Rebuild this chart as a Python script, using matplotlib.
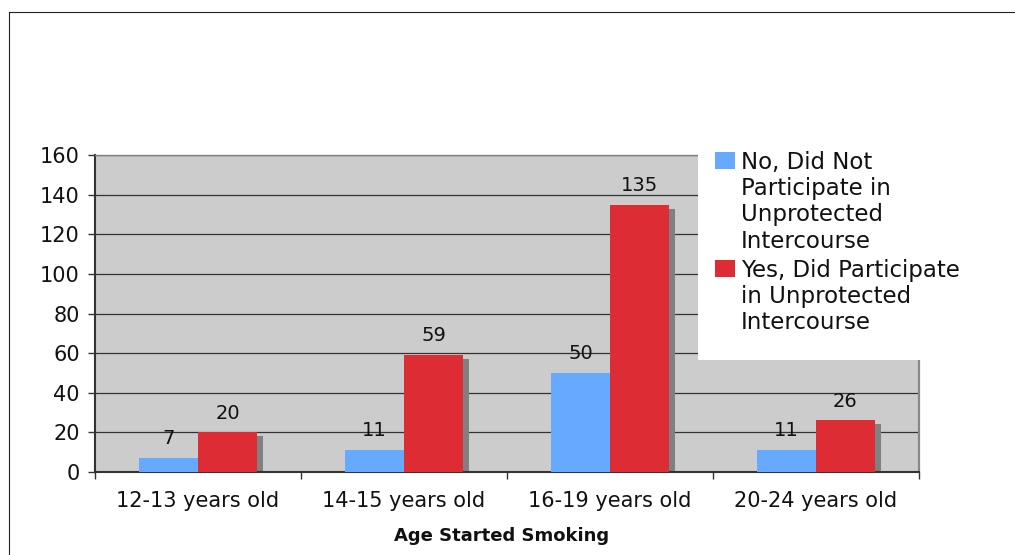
import numpy as np
import matplotlib
matplotlib.use("Agg")
import matplotlib.pyplot as plt
from matplotlib import transforms
from matplotlib.patches import Rectangle
from matplotlib.lines import Line2D

# Data
categories = ["12-13 years old", "14-15 years old", "16-19 years old", "20-24 years old"]
no_unprotected = [7, 11, 50, 11]
yes_unprotected = [20, 59, 135, 26]
series_labels = [
    "No, Did Not\nParticipate in\nUnprotected\nIntercourse",
    "Yes, Did Participate\nin Unprotected\nIntercourse",
]
y_ticks = [0, 20, 40, 60, 80, 100, 120, 140, 160]

BLUE = "#66AAFF"
RED = "#DD2C33"
SHADOW = "#808080"

W, H = 1015, 555
plt.rcParams["font.family"] = ["DejaVu Sans"]

fig = plt.figure(figsize=(W / 100, H / 100), dpi=100)


def fx(px):
    return px / W


def fy(py):
    return 1 - py / H


ax = fig.add_axes([fx(95), fy(472), fx(919) - fx(95), fy(155) - fy(472)])
ax.set_facecolor("#CCCCCC")

x = np.arange(len(categories))
bw = 0.286

# drop shadows, offset right and down
shadow_tr = transforms.offset_copy(ax.transData, fig=fig, x=6, y=-4, units="dots")
ax.bar(x - bw / 2, no_unprotected, bw, color=SHADOW, transform=shadow_tr, zorder=2, linewidth=0)
ax.bar(x + bw / 2, yes_unprotected, bw, color=SHADOW, transform=shadow_tr, zorder=2, linewidth=0)

bars_no = ax.bar(x - bw / 2, no_unprotected, bw, color=BLUE, zorder=3, linewidth=0)
bars_yes = ax.bar(x + bw / 2, yes_unprotected, bw, color=RED, zorder=3, linewidth=0)

for xi, v in zip(x - bw / 2, no_unprotected):
    ax.annotate(str(v), (xi, v), xytext=(0, 7), textcoords="offset points",
                ha="center", va="bottom", fontsize=14, color="#111111", zorder=4)
for xi, v in zip(x + bw / 2, yes_unprotected):
    ax.annotate(str(v), (xi, v), xytext=(0, 7), textcoords="offset points",
                ha="center", va="bottom", fontsize=14, color="#111111", zorder=4)

ax.set_xlim(-0.5, len(categories) - 0.5)
ax.set_ylim(0, 160)
ax.set_yticks(y_ticks)
ax.yaxis.grid(True, color="#333333", linewidth=0.9)
ax.set_axisbelow(True)

# category boundaries carry the tick marks, centres carry the labels
ax.set_xticks(np.arange(len(categories) + 1) - 0.5)
ax.set_xticklabels([])
ax.set_xticks(x, minor=True)
ax.set_xticklabels(categories, minor=True)
ax.tick_params(axis="x", which="major", length=5, width=1, color="#333333")
ax.tick_params(axis="x", which="minor", length=0, pad=14, labelsize=15, labelcolor="#111111")
ax.tick_params(axis="y", length=5, width=1, color="#333333", pad=6, labelsize=15, labelcolor="#111111")

for side in ("left", "bottom"):
    ax.spines[side].set_color("#333333")
    ax.spines[side].set_linewidth(1.5)
ax.spines["top"].set_color("#808080")
ax.spines["top"].set_linewidth(1.0)
ax.spines["right"].set_color("#888888")
ax.spines["right"].set_linewidth(1.6)

ax.set_xlabel("Age Started Smoking", fontsize=13, fontweight="bold", color="#111111")
ax.xaxis.set_label_coords(0.493, -0.172)

# outer chart border
fig.add_artist(Line2D([fx(8.5), fx(8.5)], [-0.05, fy(11.5)], transform=fig.transFigure,
                      color="#222222", linewidth=0.8))
fig.add_artist(Line2D([fx(8.5), 1.05], [fy(11.5), fy(11.5)], transform=fig.transFigure,
                      color="#222222", linewidth=0.8))

# legend panel
fig.add_artist(Rectangle((fx(698), fy(360)), fx(1030) - fx(698), fy(140) - fy(360),
                         transform=fig.transFigure, facecolor="white", edgecolor="none", zorder=5))
legend_rows = [(BLUE, series_labels[0], 152), (RED, series_labels[1], 260)]
for color, label, top in legend_rows:
    fig.add_artist(Rectangle((fx(715), fy(top + 17)), fx(735) - fx(715), fy(top) - fy(top + 17),
                             transform=fig.transFigure, facecolor=color, edgecolor="none", zorder=6))
    fig.text(fx(741), fy(top - 1), label, ha="left", va="top", fontsize=16.5,
             color="#111111", zorder=7, linespacing=1.18)

fig.savefig("out.png", dpi=100)
